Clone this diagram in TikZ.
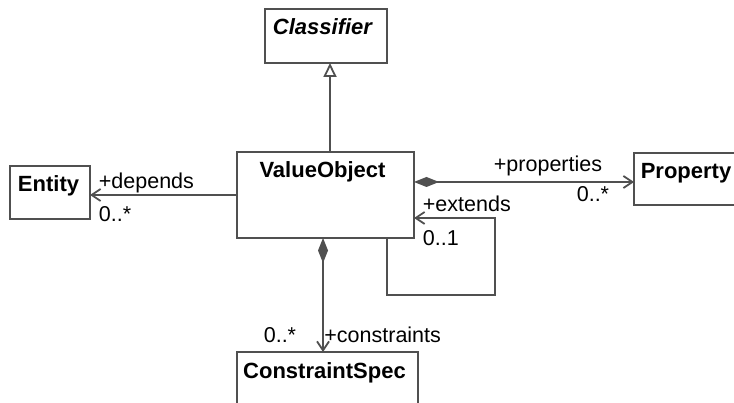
\documentclass[tikz,border=0pt]{standalone}
\usepackage{fontspec}
\setmainfont{Liberation Sans}
\usetikzlibrary{arrows.meta,positioning}
\definecolor{umlgray}{HTML}{505050}
\tikzset{
  umlclass/.style={draw=umlgray, line width=1.8pt, fill=white, inner sep=0pt, outer sep=0pt},
  classname/.style={anchor=base, yshift=-26pt, xshift=-3pt, inner sep=0pt, font=\fontsize{22}{26}\selectfont\bfseries},
  assoc/.style={draw=umlgray, line width=1.8pt, -{Straight Barb[length=9pt,width=12pt]}},
  compose/.style={assoc, {Diamond[length=25pt,width=10pt]}-{Straight Barb[length=9pt,width=12pt]}},
  inherit/.style={draw=umlgray, line width=1.8pt, -{Triangle[open,length=14pt,width=13pt]}},
  role/.style={inner sep=0pt, font=\fontsize{21.5}{26}\selectfont}
}
\begin{document}
\begin{tikzpicture}[x=1pt, y=-1pt]
\useasboundingbox (0,0) rectangle (734,403);
\clip (0,0) rectangle (734,403);

% Classes
\node[umlclass, minimum width=122pt, minimum height=54pt, label={[classname]north:\textit{Classifier}}] (cls) at (326,36) {};
\node[umlclass, minimum width=177pt, minimum height=86pt, label={[classname]north:ValueObject}] (vo) at (325.5,195) {};
\node[umlclass, minimum width=80pt, minimum height=53pt, label={[classname, xshift=1.5pt]north:Entity}] (ent) at (50,192.5) {};
\node[umlclass, minimum width=110pt, minimum height=52pt, label={[classname]north:Property}] (prop) at (689,179) {};
\node[umlclass, minimum width=181pt, minimum height=70pt, label={[classname]north:ConstraintSpec}] (cs) at (327.5,387) {};

% Generalization
\draw[inherit] ([xshift=4.5pt]vo.north) -- ([xshift=4.5pt]vo.north |- cls.south);

% Associations
\draw[assoc] (vo.west) -- (vo.west -| ent.east)
  node[role, anchor=base west, at end, xshift=8pt, yshift=6pt] (depRole) {+depends}
  node[role, anchor=base west, at end, xshift=8pt, yshift=-27pt] (depMult) {0..*};

\draw[compose] ([yshift=13pt]vo.east) -- ([yshift=13pt]vo.east -| prop.west)
  node[role, anchor=base east, at end, xshift=-31pt, yshift=10pt] (propRole) {+properties}
  node[role, anchor=base east, at end, xshift=-24pt, yshift=-20pt] (propMult) {0..*};

% Self association
\coordinate (loopCorner) at (495,295);
\draw[assoc] ([xshift=61.5pt]vo.south) |- (loopCorner) |- ([yshift=-23pt]vo.east)
  node[role, anchor=base west, at end, xshift=8pt, yshift=6pt] (extRole) {+extends}
  node[role, anchor=base west, at end, xshift=8pt, yshift=-28pt] (extMult) {0..1};

% Composition
\draw[compose] ([xshift=-2.5pt]vo.south) -- ([xshift=-2.5pt]vo.south |- cs.north)
  node[role, anchor=base west, at end, xshift=0.5pt, yshift=9pt] (conRole) {+constraints}
  node[role, anchor=base east, at end, xshift=-26pt, yshift=9pt] (conMult) {0..*};
\end{tikzpicture}
\end{document}
